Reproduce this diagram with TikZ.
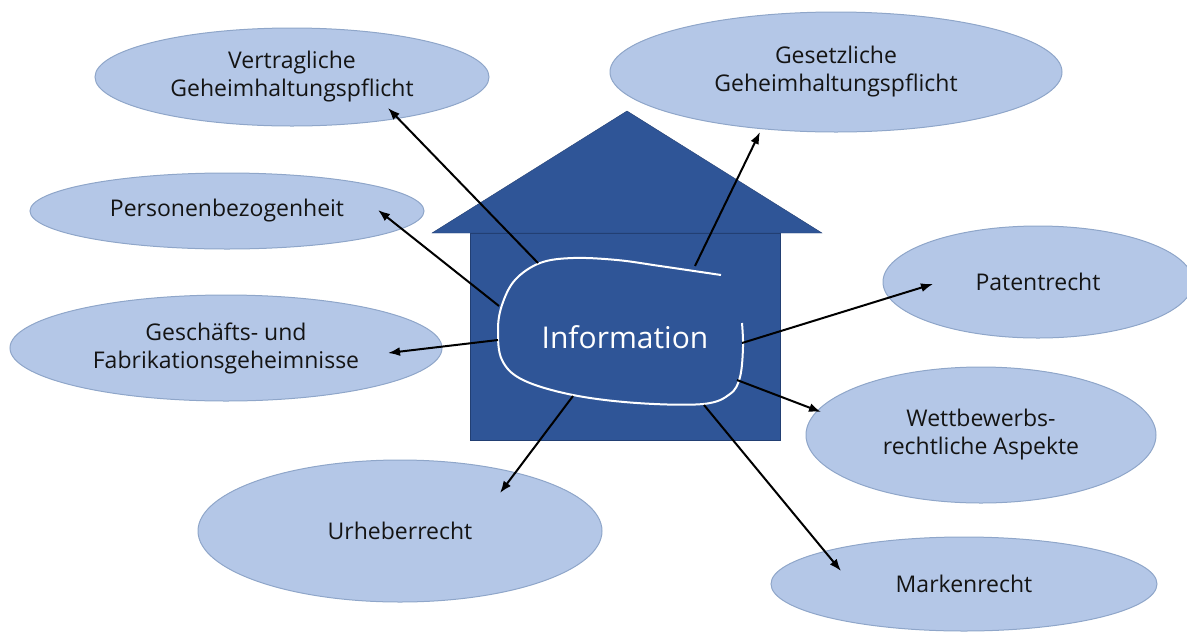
\documentclass[tikz,border=0pt]{standalone}
\usepackage{fontspec}
\setmainfont{Open Sans}
\usetikzlibrary{shapes.geometric,arrows.meta}
\definecolor{hausblau}{HTML}{2F5597}
\definecolor{hausrand}{HTML}{223F73}
\definecolor{hellblau}{HTML}{B4C7E7}
\definecolor{ellrand}{HTML}{8FA6C9}
\tikzset{
  thema/.style={ellipse,draw=ellrand,fill=hellblau,line width=1pt,inner sep=0pt,
    align=center,text=black!92,font=\fontsize{23}{28}\selectfont},
  pfeil/.style={-{Latex[length=12pt,width=9pt]},line width=2pt,black}
}
\begin{document}
\begin{tikzpicture}[x=1pt,y=-1pt]
  \useasboundingbox (0,0) rectangle (1187,633);
  \clip (0,0) rectangle (1187,633);

  % Haus
  \draw[fill=hausblau,draw=hausrand] (432,233) -- (627,111) -- (822,233) -- cycle;
  \draw[fill=hausblau,draw=hausrand] (470,233) rectangle (780,440);

  % Themen
  \node[thema,minimum width=394pt,minimum height=98pt] (vertrag) at (292,77) {Vertragliche\\Geheimhaltungspflicht};
  \node[thema,minimum width=452pt,minimum height=120pt] (gesetz) at (836,72) {Gesetzliche\\Geheimhaltungspflicht};
  \node[thema,minimum width=394pt,minimum height=76pt] (person) at (227,211) {Personenbezogenheit};
  \node[thema,minimum width=432pt,minimum height=106pt] (geschaeft) at (226,348) {Geschäfts- und\\Fabrikationsgeheimnisse};
  \node[thema,minimum width=404pt,minimum height=142pt] (urheber) at (400,531) {Urheberrecht};
  \node[thema,minimum width=310pt,minimum height=112pt] (patent) at (1038,282) {Patentrecht};
  \node[thema,minimum width=350pt,minimum height=136pt] (wettbewerb) at (981,435) {Wettbewerbs-\\rechtliche Aspekte};
  \node[thema,minimum width=386pt,minimum height=94pt] (marke) at (964,584) {Markenrecht};

  % Information
  \draw[white,line width=2pt] plot[smooth,tension=0.6] coordinates {(721,275) (660,266) (617,260) (573,258) (540,263) (515,280) (502,305) (498,330) (502,360) (523,380) (573,395) (637,403) (703,404) (730,394) (740,377) (743,347) (742,323)};
  \node[text=white,font=\fontsize{30}{36}\selectfont] (info) at (625,337) {Information};

  \coordinate (i1) at (538,263);  \coordinate (t1) at (388,108);
  \coordinate (i2) at (695,266);  \coordinate (t2) at (760,132);
  \coordinate (i3) at (499,306);  \coordinate (t3) at (378,210);
  \coordinate (i4) at (498,340);  \coordinate (t4) at (388,353);
  \coordinate (i5) at (573,396);  \coordinate (t5) at (500,493);
  \coordinate (i6) at (742,343);  \coordinate (t6) at (933,284);
  \coordinate (i7) at (737,380);  \coordinate (t7) at (821,412);
  \coordinate (i8) at (704,405);  \coordinate (t8) at (841,571);

  \begin{scope}[pfeil]
    \draw (i1) -- (t1);
    \draw (i2) -- (t2);
    \draw (i3) -- (t3);
    \draw (i4) -- (t4);
    \draw (i5) -- (t5);
    \draw (i6) -- (t6);
    \draw (i7) -- (t7);
    \draw (i8) -- (t8);
  \end{scope}
\end{tikzpicture}
\end{document}
